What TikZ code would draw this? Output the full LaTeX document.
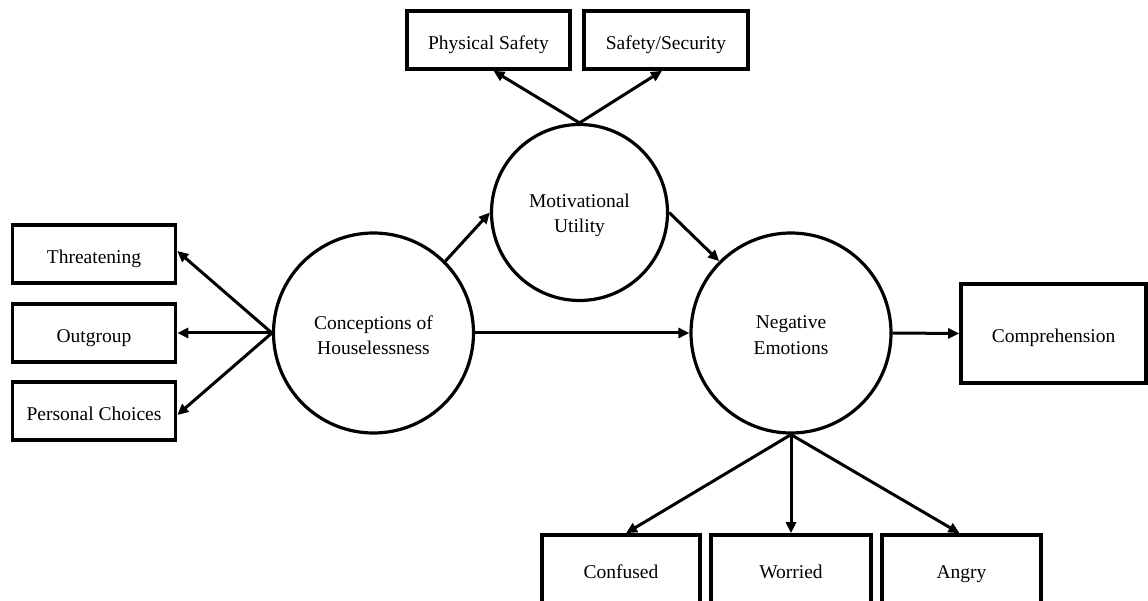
\documentclass[tikz,border=0pt]{standalone}
\usepackage{fontspec}
\setmainfont{Liberation Serif}
\usetikzlibrary{arrows.meta}

\tikzset{
  lbl/.style={font=\fontsize{19.5}{25.5}\selectfont, align=center},
  indicator/.style={lbl, draw, line width=3.6pt, rectangle, inner sep=0pt,
                    text height=19pt, text depth=0pt},
  latent/.style={draw, line width=3.2pt, circle, inner sep=0pt, minimum size=200pt},
  path/.style={line width=3pt, -{Triangle[length=11pt,width=10pt]}}
}

\begin{document}
\begin{tikzpicture}[x=1pt,y=-1pt]
  \clip (0,0) rectangle (1148,601);
  \fill[white] (0,0) rectangle (1148,601);

  % latent constructs (circles) and their names
  \node[latent, minimum size=176pt] (mot)  at (579.5,212.5) {};
  \node[latent] (conc) at (373.5,333) {};
  \node[latent] (neg)  at (791,333)   {};
  \node[lbl, yshift=-3pt] (motlbl)  at (mot)  {Motivational\\Utility};
  \node[lbl, yshift=-2pt] (conclbl) at (conc) {Conceptions of\\Houselessness};
  \node[lbl, yshift=-2pt] (neglbl)  at (neg)  {Negative\\Emotions};

  % indicators of motivational utility
  \node[indicator, minimum width=163pt, minimum height=58pt] (phys) at (488.5,40) {Physical Safety};
  \node[indicator, minimum width=164pt, minimum height=58pt] (sec)  at (666,40)   {Safety/Security};

  % indicators of conceptions
  \node[indicator, minimum width=163pt, minimum height=58pt] (thr) at (94,254) {Threatening};
  \node[indicator, minimum width=163pt, minimum height=58pt] (og)  at (94,333) {Outgroup};
  \node[indicator, minimum width=163pt, minimum height=58pt] (pc)  at (94,411) {Personal Choices};

  % outcome
  \node[indicator, minimum width=185pt, minimum height=99pt] (comp) at (1053.5,333.5) {Comprehension};

  % indicators of negative emotions
  \node[indicator, minimum width=158pt, minimum height=68pt] (conf) at (621,569)   {Confused};
  \node[indicator, minimum width=160pt, minimum height=68pt] (wor)  at (791,569)   {Worried};
  \node[indicator, minimum width=159pt, minimum height=68pt] (ang)  at (961.5,569) {Angry};

  % paths
  \draw[path] (mot.north) -- ([xshift=5pt]phys.south);
  \draw[path] (mot.north) -- ([xshift=-4pt]sec.south);

  \draw[path] (conc.west) -- ([yshift=3pt]thr.east);
  \draw[path] (conc.west) -- (og.east);
  \draw[path] (conc.west) -- ([yshift=-4pt]pc.east);

  \draw[path] (conc.45) -- (mot.west);
  \draw[path] (mot.east) -- (neg.135);
  \draw[path] (conc.east) -- (neg.west);
  \draw[path] (neg.east) -- (comp.west);

  \draw[path] (neg.south) -- ([xshift=5pt]conf.north);
  \draw[path] (neg.south) -- (wor.north);
  \draw[path] (neg.south) -- ([xshift=-2pt]ang.north);
\end{tikzpicture}
\end{document}
